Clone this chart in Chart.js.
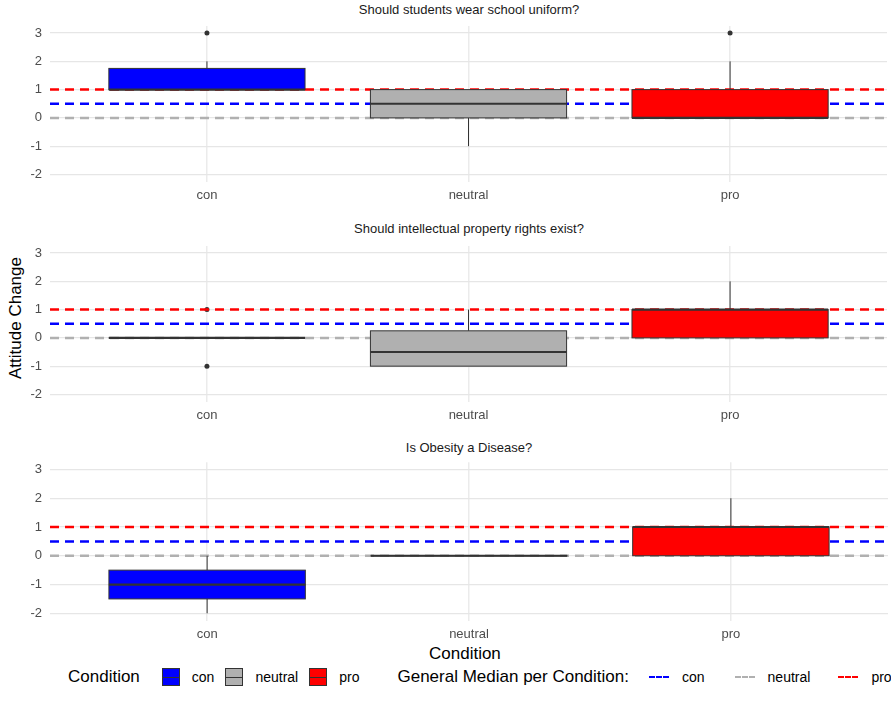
<!DOCTYPE html>
<html>
<head>
<meta charset="utf-8">
<script src="https://cdn.jsdelivr.net/npm/chart.js@4/dist/chart.umd.min.js"></script>
<style>
  body { margin: 0; background: #fff; font-family: "Liberation Sans", Arial, sans-serif; }
  #wrap { position: relative; width: 891px; height: 716px; }
  .panel { position: absolute; left: 0; width: 891px; }
  .title { position: absolute; width: 838px; left: 50px; text-align: center; font-size: 13px; color: #1a1a1a; }
  .axis-title { position: absolute; font-size: 17px; color: #000; }
  #legend { position: absolute; top: 667px; left: 68px; font-size: 17px; color: #000; display: flex; align-items: center; white-space: nowrap; }
  #legend .sw { display: inline-block; width: 18px; height: 18px; border: 1px solid #333; margin: 0 12px 0 0; position: relative; box-sizing: border-box; }
  #legend .sw::after { content: ""; position: absolute; left: 0; right: 0; top: 7.5px; height: 1.5px; background: #333; }
  #legend .dash { display: inline-block; width: 20px; height: 0; border-top: 2.5px dashed; margin: 0 13px 0 0; }
  #legend .item { font-size: 14px; }
</style>
</head>
<body>
<div id="wrap">
  <div class="title" style="top:2px">Should students wear school uniform?</div>
  <div class="title" style="top:221px">Should intellectual property rights exist?</div>
  <div class="title" style="top:440px">Is Obesity a Disease?</div>
  <div class="axis-title" style="left:-54px;top:308px;transform:rotate(-90deg);width:140px;text-align:center">Attitude Change</div>
  <div class="axis-title" style="left:429px;top:644px">Condition</div>
  <div id="legend">
    <span style="margin-right:22px">Condition</span>
    <span class="sw" style="background:#0000ff"></span><span class="item" style="margin-right:11px">con</span>
    <span class="sw" style="background:#b0b0b0"></span><span class="item" style="margin-right:11px">neutral</span>
    <span class="sw" style="background:#ff0000"></span><span class="item" style="margin-right:38px">pro</span>
    <span style="margin-right:20px">General Median per Condition:</span>
    <span class="dash" style="border-color:#0000ff"></span><span class="item" style="margin-right:30px">con</span>
    <span class="dash" style="border-color:#b0b0b0"></span><span class="item" style="margin-right:28px">neutral</span>
    <span class="dash" style="border-color:#ff0000"></span><span class="item">pro</span>
  </div>
</div>
<script>
const conditions = ['con', 'neutral', 'pro'];
const conditionColors = ['#0000ff', '#b0b0b0', '#ff0000'];
const generalMedians = [0.5, 0, 1];

// [lower whisker, q1, median, q3, upper whisker] per condition
const uniformStats = [[1, 1, 1, 1.75, 2], [-1, 0, 0.5, 1, 1], [0, 0, 0, 1, 2]];
const uniformOutliers = [[3], [], [3]];
const ipStats = [[0, 0, 0, 0, 0], [-1, -1, -0.5, 0.25, 1], [0, 0, 1, 1, 2]];
const ipOutliers = [[1, -1], [], []];
const obesityStats = [[-2, -1.5, -1, -0.5, 0], [0, 0, 0, 0, 0], [0, 0, 1, 1, 2]];
const obesityOutliers = [[], [], []];

const panels = [
    { top: 21.75, stats: uniformStats, outliers: uniformOutliers },
    { top: 241.75, stats: ipStats, outliers: ipOutliers },
    { top: 460.75, stats: obesityStats, outliers: obesityOutliers }
];

const plotHeight = 159.5;
const boxWidth = 0.75;

const boxPlugin = {
    id: 'boxes',
    afterDatasetsDraw(chart) {
        const stats = chart.options.plugins.boxes.stats;
        const ctx = chart.ctx;
        const x = chart.scales.x, y = chart.scales.y;
        ctx.save();
        stats.forEach((s, i) => {
            const cx = x.getPixelForValue(i + 1);
            const x0 = x.getPixelForValue(i + 1 - boxWidth / 2);
            const x1 = x.getPixelForValue(i + 1 + boxWidth / 2);
            const [lo, q1, med, q3, hi] = s.map(v => y.getPixelForValue(v));
            ctx.strokeStyle = '#333333';
            ctx.lineWidth = 1;
            ctx.beginPath();
            ctx.moveTo(cx, q3); ctx.lineTo(cx, hi);
            ctx.moveTo(cx, q1); ctx.lineTo(cx, lo);
            ctx.stroke();
            ctx.fillStyle = conditionColors[i];
            ctx.fillRect(x0, q3, x1 - x0, q1 - q3);
            ctx.strokeRect(x0, q3, x1 - x0, q1 - q3);
            ctx.lineWidth = 2.2;
            ctx.beginPath();
            ctx.moveTo(x0, med); ctx.lineTo(x1, med);
            ctx.stroke();
        });
        ctx.restore();
    }
};

panels.forEach((p, idx) => {
    const div = document.createElement('div');
    div.className = 'panel';
    div.style.top = p.top + 'px';
    div.style.height = (plotHeight + 30) + 'px';
    const canvas = document.createElement('canvas');
    div.appendChild(canvas);
    document.getElementById('wrap').appendChild(div);

    const datasets = [];
    generalMedians.forEach((m, i) => {
        datasets.push({
            type: 'line',
            data: [{ x: 0.4, y: m }, { x: 3.6, y: m }],
            borderColor: conditionColors[i],
            borderWidth: 2.5,
            borderDash: [9, 6],
            pointRadius: 0
        });
    });
    const outPts = [];
    p.outliers.forEach((arr, i) => arr.forEach(v => outPts.push({ x: i + 1, y: v })));
    datasets.push({
        type: 'scatter',
        data: outPts,
        pointRadius: 2.5,
        pointBackgroundColor: '#333333',
        pointBorderWidth: 0
    });

    new Chart(canvas, {
        type: 'scatter',
        data: { datasets },
        plugins: [boxPlugin],
        options: {
            responsive: true,
            maintainAspectRatio: false,
            animation: false,
            layout: { padding: { left: 0, right: 3, top: 0, bottom: 0 } },
            plugins: {
                legend: { display: false },
                tooltip: { enabled: false },
                boxes: { stats: p.stats }
            },
            scales: {
                x: {
                    type: 'linear', min: 0.4, max: 3.6,
                    afterBuildTicks: s => { s.ticks = [1, 2, 3].map(v => ({ value: v })); },
                    afterFit: s => { s.height = 30; s.paddingLeft = 0; s.paddingRight = 0; },
                    ticks: {
                        callback: v => conditions[v - 1],
                        color: '#4d4d4d', font: { size: 13, family: 'Liberation Sans' }, padding: 6
                    },
                    grid: { color: '#ebebeb', lineWidth: 1.5, drawTicks: false },
                    border: { display: false }
                },
                y: {
                    min: -2.25, max: 3.25,
                    afterBuildTicks: s => {
                        const t = [];
                        for (let v = -2; v <= 3; v += 0.5) t.push({ value: v });
                        s.ticks = t;
                    },
                    afterFit: s => { s.width = 50; s.paddingTop = 0; s.paddingBottom = 0; },
                    ticks: {
                        callback: v => Number.isInteger(v) ? String(v) : '',
                        color: '#4d4d4d', font: { size: 13, family: 'Liberation Sans' }, padding: 8
                    },
                    grid: {
                        color: c => Number.isInteger(c.tick.value) ? '#e6e6e6' : '#f2f2f2',
                        lineWidth: c => Number.isInteger(c.tick.value) ? 1.3 : 0.8,
                        drawTicks: false
                    },
                    border: { display: false }
                }
            }
        }
    });
});
</script>
</body>
</html>
